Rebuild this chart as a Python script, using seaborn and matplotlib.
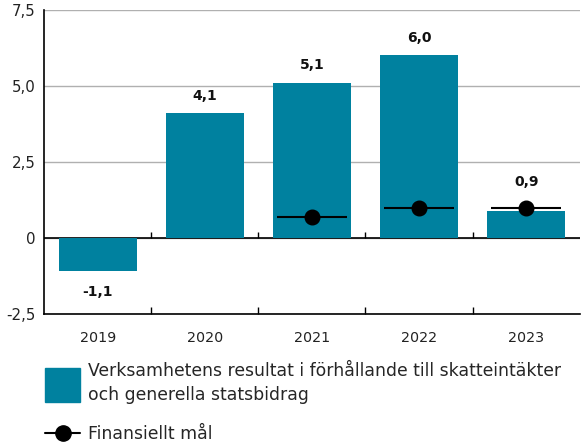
import matplotlib
matplotlib.use("Agg")
import matplotlib.pyplot as plt
import matplotlib.patches as mpatches
import matplotlib.lines as mlines
import seaborn as sns
import pandas as pd

# Data
years = ["2019", "2020", "2021", "2022", "2023"]
result = [-1.1, 4.1, 5.1, 6.0, 0.9]
target_years = ["2021", "2022", "2023"]
target = [0.7, 1.0, 1.0]
yticks = [-2.5, 0, 2.5, 5.0, 7.5]
ytick_labels = ["-2,5", "0", "2,5", "5,0", "7,5"]

bar_color = "#00819f"

sns.set_theme(style="white")
plt.rcParams["font.family"] = ["DejaVu Sans"]

df = pd.DataFrame({"year": years, "value": result})
targets = dict(zip(target_years, target))

fig = plt.figure(figsize=(5.82, 4.48), dpi=100)
ax = fig.add_axes([0.076, 0.299, 0.92, 0.679])

sns.barplot(data=df, x="year", y="value", color=bar_color, width=0.73,
            saturation=1, linewidth=0, ax=ax, zorder=2)

# target markers with horizontal line
for yr, t in zip(target_years, target):
    i = years.index(yr)
    ax.hlines(t, i - 0.33, i + 0.33, color="black", lw=1.5, zorder=3)
    ax.plot(i, t, "o", color="black", ms=10.5, zorder=4)

# value labels (kept clear of the target marker)
for i, v in enumerate(result):
    txt = f"{v:.1f}".replace(".", ",")
    if v >= 0:
        top = v
        t = targets.get(years[i])
        if t is not None and t >= v - 0.1:
            top = t + 0.25
        ax.text(i, top + 0.35, txt, ha="center", va="bottom", fontsize=10,
                fontweight="bold", color="#111111")
    else:
        ax.text(i, v - 0.45, txt, ha="center", va="top", fontsize=10,
                fontweight="bold", color="#111111")

ax.set_ylim(-2.5, 7.5)
ax.set_xlim(-0.5, len(years) - 0.5)
ax.set_yticks(yticks)
ax.set_yticklabels(ytick_labels)
ax.yaxis.grid(True, color="#b0b0b0", lw=1)
ax.set_axisbelow(True)
ax.axhline(0, color="black", lw=1.2, zorder=1.5)

# small ticks at category boundaries
bounds = [i + 0.5 for i in range(len(years) - 1)]
ax.vlines(bounds, 0, 0.2, color="black", lw=1, zorder=1.5)
ax.set_xticks(bounds, minor=True)
ax.tick_params(axis="x", which="minor", direction="in", length=5, width=1,
               color="black", bottom=True)
ax.tick_params(axis="x", which="major", length=0, labelsize=10.3, pad=12,
               labelcolor="#222222")
ax.tick_params(axis="y", length=0, labelsize=10.8, pad=6, labelcolor="#222222")

ax.set_xlabel("")
ax.set_ylabel("")
for s in ["top", "right"]:
    ax.spines[s].set_visible(False)
for s in ["left", "bottom"]:
    ax.spines[s].set_color("black")
    ax.spines[s].set_linewidth(1.2)

# legend
bar_handle = mpatches.Patch(color=bar_color)
line_handle = mlines.Line2D([], [], color="black", marker="o", ms=11, lw=1.5)
leg = fig.legend([bar_handle],
                 ["Verksamhetens resultat i förhållande till skatteintäkter\noch generella statsbidrag"],
                 loc="upper left", bbox_to_anchor=(0.072, 0.2), frameon=False,
                 fontsize=12.4, handlelength=2.0, handleheight=2.7, handletextpad=0.45,
                 borderpad=0.2, borderaxespad=0)
leg.get_texts()[0].set_linespacing(1.45)
fig.legend([line_handle], ["Finansiellt mål"], loc="upper left",
           bbox_to_anchor=(0.072, 0.058), frameon=False, fontsize=12.4,
           handlelength=2.0, handletextpad=0.45, borderpad=0.2, borderaxespad=0)

fig.savefig("out.png", dpi=100)
